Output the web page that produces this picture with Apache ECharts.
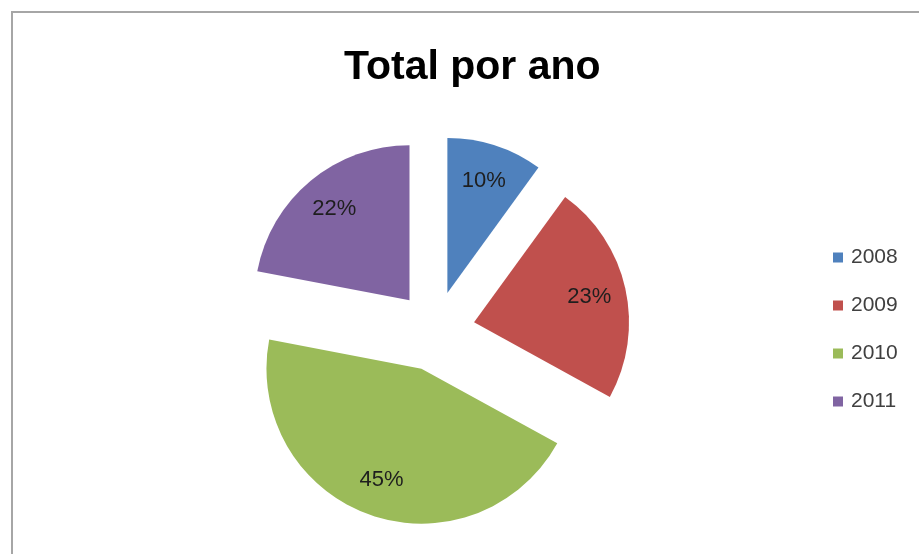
<!DOCTYPE html>
<html>
<head>
<meta charset="utf-8">
<script src="https://cdn.jsdelivr.net/npm/echarts@6/dist/echarts.min.js"></script>
<style>html,body{margin:0;padding:0;background:#fff}#c{width:919px;height:554px}</style>
</head>
<body>
<div id="c"></div>
<script>
const titleText = 'Total por ano';
const categories = ['2008', '2009', '2010', '2011'];
const values = [10, 23, 45, 22];
const colors = ['#4f81bd', '#c0504d', '#9bbb59', '#8064a2'];

const chart = echarts.init(document.getElementById('c'));
const pieData = categories.map((c, i) => ({
  name: c, value: values[i], selected: true, itemStyle: { color: colors[i] }
}));
const labelData = categories.map((c, i) => ({
  name: c, value: values[i], selected: true, itemStyle: { color: 'rgba(0,0,0,0)' }
}));
const common = {
  type: 'pie', center: [435, 331], startAngle: 90, clockwise: true,
  selectedMode: 'multiple', selectedOffset: 40, animation: false,
  select: { itemStyle: {} }, emphasis: { disabled: true }, silent: true
};
chart.setOption({
  backgroundColor: '#ffffff',
  title: {
    text: titleText, left: 344, top: 47, padding: 0,
    textStyle: { fontFamily: 'Liberation Sans', fontWeight: 'bold', fontSize: 41, color: '#000' }
  },
  legend: {
    orient: 'vertical', left: 833, top: 247, padding: 0, icon: 'rect', itemWidth: 10, itemHeight: 10,
    itemGap: 27, data: categories,
    textStyle: { fontFamily: 'Liberation Sans', fontSize: 21, color: '#404040', padding: [0, 0, 0, 3] }
  },
  graphic: [
    { type: 'line', shape: { x1: 11, y1: 12, x2: 919, y2: 12 }, style: { stroke: '#a6a6a6', lineWidth: 2 }, silent: true },
    { type: 'line', shape: { x1: 12, y1: 11, x2: 12, y2: 554 }, style: { stroke: '#a6a6a6', lineWidth: 2 }, silent: true }
  ],
  series: [
    Object.assign({}, common, {
      name: 'pie', radius: [0, 155], data: pieData, label: { show: false }, labelLine: { show: false }
    }),
    Object.assign({}, common, {
      name: 'labels', radius: [75, 155], data: labelData,
      label: { show: true, position: 'inside', formatter: '{c}%', fontFamily: 'Liberation Sans', fontSize: 22, color: '#1e1e1e' },
      labelLine: { show: false }
    })
  ]
});
</script>
</body>
</html>
